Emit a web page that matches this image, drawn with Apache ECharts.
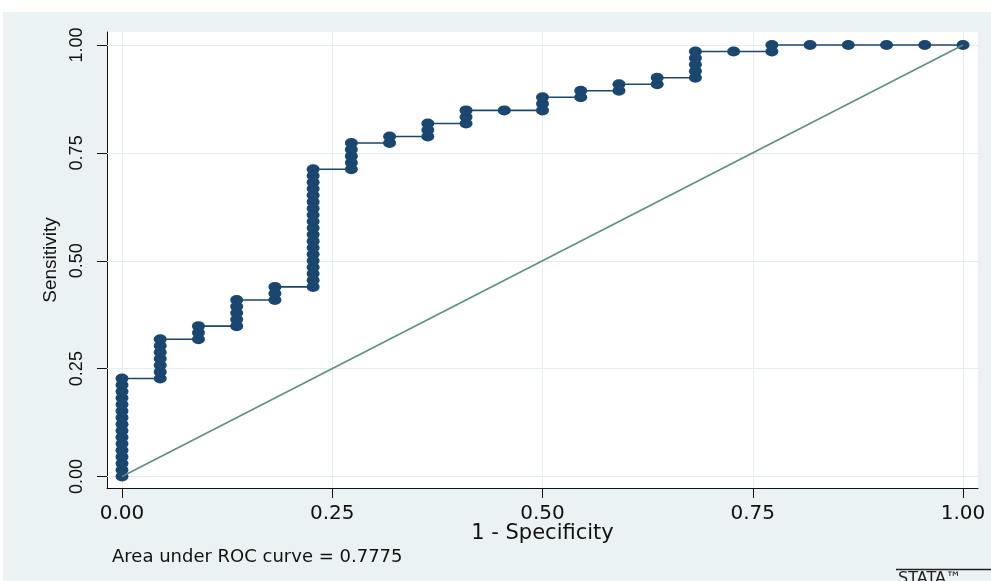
<!DOCTYPE html>
<html>
<head>
<meta charset="utf-8">
<script src="https://cdn.jsdelivr.net/npm/echarts@6/dist/echarts.min.js"></script>
<style>
  html, body { margin: 0; padding: 0; background: #ffffff; }
  #chart { width: 991px; height: 581px; }
</style>
</head>
<body>
<div id="chart"></div>
<script>
// ROC curve of a classifier: 22 negative and 66 positive observations.
const nNegative = 22;
const nPositive = 66;

// One entry per cutpoint: cumulative false positives and true positives.
const falsePositives = [
  0, 0, 0, 0, 0, 0, 0, 0, 0, 0, 0, 0, 0, 0, 0, 0,
  1, 1, 1, 1, 1, 1, 1,
  2, 2, 2,
  3, 3, 3, 3, 3,
  4, 4, 4,
  5, 5, 5, 5, 5, 5, 5, 5, 5, 5, 5, 5, 5, 5, 5, 5, 5, 5, 5,
  6, 6, 6, 6, 6,
  7, 7,
  8, 8, 8,
  9, 9, 9,
  10,
  11, 11, 11,
  12, 12,
  13, 13,
  14, 14,
  15, 15, 15, 15, 15,
  16,
  17, 17,
  18, 19, 20, 21, 22
];
const truePositives = [
  0, 1, 2, 3, 4, 5, 6, 7, 8, 9, 10, 11, 12, 13, 14, 15,
  15, 16, 17, 18, 19, 20, 21,
  21, 22, 23,
  23, 24, 25, 26, 27,
  27, 28, 29,
  29, 30, 31, 32, 33, 34, 35, 36, 37, 38, 39, 40, 41, 42, 43, 44, 45, 46, 47,
  47, 48, 49, 50, 51,
  51, 52,
  52, 53, 54,
  54, 55, 56,
  56,
  56, 57, 58,
  58, 59,
  59, 60,
  60, 61,
  61, 62, 63, 64, 65,
  65,
  65, 66,
  66, 66, 66, 66, 66
];

// Chance diagonal
const referenceX = [0, 1];
const referenceY = [0, 1];

const axisTicks = [0, 0.25, 0.5, 0.75, 1];
const axisTickLabels = ['0.00', '0.25', '0.50', '0.75', '1.00'];
const xTitle = '1 - Specificity';
const yTitle = 'Sensitivity';
const aucPrefix = 'Area under ROC curve = ';

const rocPoints = falsePositives.map((fp, i) => [fp / nNegative, truePositives[i] / nPositive]);
const refPoints = referenceX.map((x, i) => [x, referenceY[i]]);

// Trapezoidal area under the empirical curve
let auc = 0;
for (let i = 1; i < rocPoints.length; i++) {
  const [x0, y0] = rocPoints[i - 1];
  const [x1, y1] = rocPoints[i];
  auc += (x1 - x0) * (y0 + y1) / 2;
}

const NAVY = '#1a476f';
const BG = '#eaf2f3';
const GRID_LINE = '#e4eef0';
const labelFor = v => axisTickLabels[axisTicks.indexOf(v)] ?? '';

const chart = echarts.init(document.getElementById('chart'), null, { renderer: 'canvas' });

chart.setOption({
  animation: false,
  backgroundColor: '#ffffff',
  graphic: [
    { type: 'rect', z: -20, silent: true, shape: { x: 3, y: 12, width: 988, height: 569 }, style: { fill: BG } },
    { type: 'rect', z: -19, silent: true, shape: { x: 107, y: 32, width: 871, height: 456 }, style: { fill: '#ffffff' } },
    {
      type: 'text', left: 112, top: 548, silent: true,
      style: { text: aucPrefix + auc.toFixed(4), fontFamily: 'DejaVu Sans', fontSize: 18, fill: '#111' }
    },
    { type: 'line', silent: true, shape: { x1: 896, y1: 569.5, x2: 991, y2: 569.5 }, style: { stroke: '#222', lineWidth: 1.3 } },
    {
      type: 'text', left: 898, top: 571, silent: true,
      style: { text: 'STATA™', fontFamily: 'DejaVu Sans', fontSize: 16, fill: '#222' }
    }
  ],
  grid: { left: 107, top: 32, width: 871, height: 456, containLabel: false },
  xAxis: {
    type: 'value',
    min: -15 / 841,
    max: 1 + 15 / 841,
    name: xTitle,
    nameLocation: 'middle',
    nameGap: 35,
    nameMoveOverlap: false,
    nameTextStyle: { fontFamily: 'DejaVu Sans', fontSize: 21, color: '#111' },
    axisLine: { show: true, onZero: false, lineStyle: { color: '#111', width: 1 } },
    axisTick: { show: true, length: 10, customValues: axisTicks, lineStyle: { color: '#111', width: 1 } },
    axisLabel: {
      customValues: axisTicks, margin: 16,
      formatter: labelFor,
      fontFamily: 'DejaVu Sans', fontSize: 20, color: '#111'
    },
    splitLine: { show: false }
  },
  yAxis: {
    type: 'value',
    min: -11.5 / 431.5,
    max: 1 + 13 / 431.5,
    name: yTitle,
    nameLocation: 'middle',
    nameRotate: 90,
    nameGap: 47,
    nameMoveOverlap: false,
    nameTextStyle: { fontFamily: 'Liberation Sans', fontSize: 19, color: '#111' },
    axisLine: { show: true, onZero: false, lineStyle: { color: '#111', width: 1 } },
    axisTick: { show: true, length: 10, customValues: axisTicks, lineStyle: { color: '#111', width: 1 } },
    axisLabel: {
      customValues: axisTicks, margin: 21, rotate: 90,
      formatter: labelFor,
      fontFamily: 'Liberation Sans', fontSize: 18, color: '#111'
    },
    splitLine: { show: false }
  },
  series: [
    {
      // light grid lines at the tick positions
      type: 'line', data: [], z: 1, silent: true,
      markLine: {
        z: 1, silent: true, symbol: 'none', animation: false,
        label: { show: false },
        lineStyle: { color: GRID_LINE, width: 1, type: 'solid' },
        data: axisTicks.map(v => ({ xAxis: v })).concat(axisTicks.map(v => ({ yAxis: v })))
      }
    },
    {
      type: 'line', data: rocPoints, z: 3,
      symbol: 'circle', symbolSize: [13, 10], showSymbol: true,
      itemStyle: { color: NAVY },
      lineStyle: { color: NAVY, width: 1.6 }
    },
    {
      type: 'line', data: refPoints, z: 4,
      symbol: 'none', showSymbol: false,
      lineStyle: { color: '#5b8f7e', width: 1.5 }
    }
  ]
});
</script>
</body>
</html>
